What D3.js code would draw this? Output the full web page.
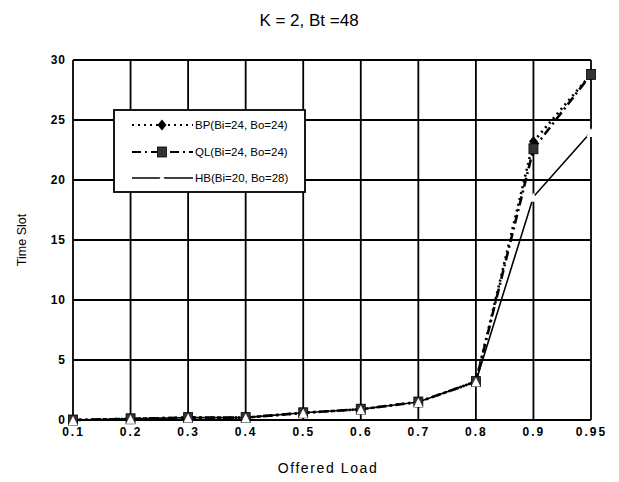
<!DOCTYPE html>
<html><head><meta charset="utf-8">
<script src="https://cdn.jsdelivr.net/npm/d3@7"></script>
<style>body{margin:0;background:#fff}svg{display:block}</style>
</head><body>
<svg id="c" width="619" height="482"></svg>
<script>
const categories = ["0.1","0.2","0.3","0.4","0.5","0.6","0.7","0.8","0.9","0.95"];
const bpValues = [0, 0.1, 0.2, 0.2, 0.6, 0.9, 1.5, 3.2, 23.2, 28.8];
const qlValues = [0, 0.1, 0.2, 0.2, 0.6, 0.9, 1.5, 3.2, 22.6, 28.8];
const hbValues = [0, 0.1, 0.2, 0.2, 0.6, 0.9, 1.5, 3.2, 18.6, 24.0];
const yTicks = [0, 5, 10, 15, 20, 25, 30];
const seriesNames = ["BP(Bi=24, Bo=24)", "QL(Bi=24, Bo=24)", "HB(Bi=20, Bo=28)"];
const titleText = "K = 2,  Bt =48";
const xTitle = "Offered Load";
const yTitle = "Time Slot";

const svg = d3.select("#c");
const m = {l:73, r:591, t:60, b:420};
const x = d3.scalePoint().domain(categories).range([m.l, m.r]);
const y = d3.scaleLinear().domain([0,30]).range([m.b, m.t]);
const FF = "Liberation Sans, Arial, sans-serif";

// grid
const g = svg.append("g");
g.selectAll("line.v").data(categories).join("line")
  .attr("x1", d=>x(d)).attr("x2", d=>x(d)).attr("y1", m.t).attr("y2", m.b)
  .attr("stroke","#000").attr("stroke-width",1.8);
g.selectAll("line.h").data(yTicks).join("line")
  .attr("x1", m.l).attr("x2", m.r).attr("y1", d=>y(d)).attr("y2", d=>y(d))
  .attr("stroke","#000").attr("stroke-width",1.8);

// axes labels
const xAxis = d3.axisBottom(x).tickSize(0).tickPadding(7);
const xa = svg.append("g").attr("transform",`translate(0,${m.b})`).call(xAxis);
xa.select(".domain").remove();
xa.selectAll("text").attr("font-family",FF)
  .attr("font-size",12).attr("font-weight","bold").attr("letter-spacing","2px").attr("fill","#000");

const yAxis = d3.axisLeft(y).tickValues(yTicks).tickSize(0).tickPadding(7);
const ya = svg.append("g").attr("transform",`translate(${m.l},0)`).call(yAxis);
ya.select(".domain").remove();
ya.selectAll("text").attr("font-family",FF)
  .attr("font-size",12).attr("font-weight","bold").attr("letter-spacing","1px").attr("fill","#000");

svg.append("text").attr("x",309).attr("y",26).attr("text-anchor","middle").attr("fill","#000")
  .attr("font-family",FF).attr("font-size",17).text(titleText);
svg.append("text").attr("x",328).attr("y",473).attr("text-anchor","middle").attr("fill","#000")
  .attr("font-family",FF).attr("font-size",14).attr("letter-spacing","1.6px").text(xTitle);
svg.append("text").attr("transform","translate(26,240) rotate(-90)").attr("text-anchor","middle").attr("fill","#000")
  .attr("font-family",FF).attr("font-size",12.5).text(yTitle);

const line = d3.line().x((d,i)=>x(categories[i])).y(d=>y(d));
const series = [
  {name:seriesNames[0], vals:bpValues, dash:"2,4", w:2.6, marker:"diamond"},
  {name:seriesNames[1], vals:qlValues, dash:"9,4,2,4", w:2.6, marker:"square"},
  {name:seriesNames[2], vals:hbValues, dash:null, w:1.6, marker:"tri"}
];
const lines = svg.append("g");
[series[1], series[0], series[2]].forEach(s=>{
  lines.append("path").datum(s.vals).attr("d",line).attr("fill","none")
    .attr("stroke","#000").attr("stroke-width",s.w)
    .attr("stroke-dasharray", s.dash);
});
function marker(sel, type){
  if(type==="diamond") sel.append("path").attr("d","M0,-5.5L4.5,0L0,5.5L-4.5,0Z").attr("fill","#000");
  else if(type==="square") sel.append("rect").attr("x",-4.5).attr("y",-5).attr("width",9).attr("height",10).attr("fill","#333").attr("stroke","#000").attr("stroke-width",0.8);
  else sel.append("path").attr("d","M-4.5,5L0,-4L4.5,5Z").attr("fill","#fff");
}
series.forEach(s=>{
  s.vals.forEach((v,i)=>{
    const gg = svg.append("g").attr("transform",`translate(${x(categories[i])},${y(v)})`);
    marker(gg, s.marker);
  });
});

// legend
const lg = svg.append("g");
lg.append("rect").attr("x",114).attr("y",110).attr("width",191).attr("height",82)
  .attr("fill","#fff").attr("stroke","#000").attr("stroke-width",1.8);
const rowsY = [125, 152, 178];
series.forEach((s,i)=>{
  const ry = rowsY[i];
  lg.append("line").attr("x1",132).attr("x2",193).attr("y1",ry).attr("y2",ry)
    .attr("stroke","#000").attr("stroke-width",s.w===1.6?1.6:2.2).attr("stroke-dasharray",s.dash);
  const mg = lg.append("g").attr("transform",`translate(162,${ry})`);
  marker(mg, s.marker);
  lg.append("text").attr("x",195).attr("y",ry+4).attr("font-family",FF).attr("fill","#000")
    .attr("font-size",11.5).text(s.name);
});
</script>
</body></html>
